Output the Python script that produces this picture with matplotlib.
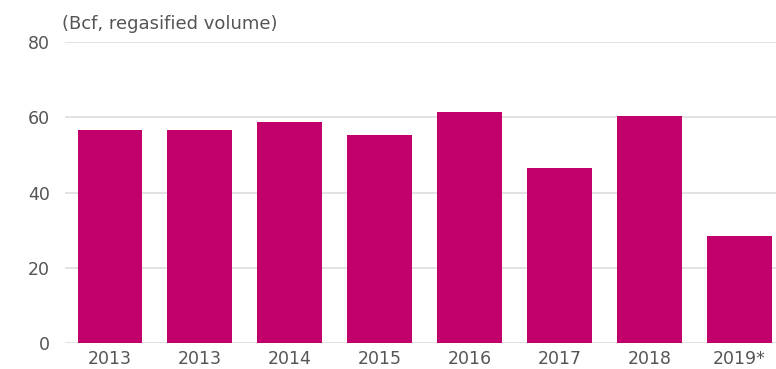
import matplotlib.pyplot as plt

plt.rcParams['font.family'] = ['DejaVu Sans']

years = ['2013', '2013', '2014', '2015', '2016', '2017', '2018', '2019*']
volumes = [56.6, 56.6, 58.7, 55.3, 61.4, 46.5, 60.3, 28.5]

BAR_COLOR = '#C2006B'
TEXT_COLOR = '#555555'

fig = plt.figure(figsize=(7.76, 3.69), dpi=100)
ax = fig.add_axes([0.0838, 0.0696, 0.9162, 0.8166])

x = range(len(years))
ax.bar(x, volumes, width=0.72, color=BAR_COLOR, zorder=2)

ax.set_ylim(0, 80)
ax.set_xlim(-0.5, 7.41)
ax.set_yticks([0, 20, 40, 60, 80])
ax.set_xticks(list(x))
ax.set_xticklabels(years)
ax.tick_params(axis='both', length=0, labelsize=12.5, colors=TEXT_COLOR)
ax.tick_params(axis='y', pad=11)
ax.tick_params(axis='x', pad=5)
ax.grid(True, axis='y', color='#dddddd', linewidth=1.2, zorder=0)
for s in ax.spines.values():
    s.set_visible(False)

fig.text(0.080, 0.935, '(Bcf, regasified volume)', fontsize=13,
         color=TEXT_COLOR, ha='left', va='center')

fig.savefig('out.png', dpi=100)
